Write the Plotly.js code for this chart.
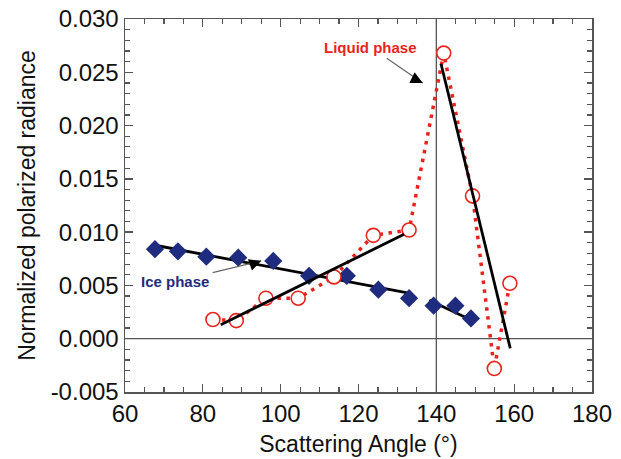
<!DOCTYPE html>
<html>
<head>
<meta charset="utf-8">
<script src="https://cdn.plot.ly/plotly-3.0.1.min.js"></script>
<style>html,body{margin:0;padding:0;background:#fff;}#chart{width:621px;height:459px;}</style>
</head>
<body>
<div id="chart"></div>
<script>
// Ice phase (blue diamonds)
const iceX = [67.7, 73.6, 80.9, 89.1, 98.1, 107.3, 117.0, 125.1, 133.0, 139.3, 144.9, 148.9];
const iceY = [0.0084, 0.0082, 0.0077, 0.0076, 0.0073, 0.0059, 0.0059, 0.0046, 0.0038, 0.0031, 0.0031, 0.0019];
// Liquid phase (red open circles, dotted)
const liqX = [82.6, 88.6, 96.2, 104.5, 113.7, 123.8, 133.0, 141.9, 149.3, 154.9, 158.9];
const liqY = [0.0018, 0.0017, 0.0038, 0.0038, 0.0058, 0.0097, 0.0102, 0.0268, 0.0134, -0.0028, 0.0052];
// Fitted lines (start/end)
const iceFit1X = [68.7, 132.6];
const iceFit1Y = [0.0087, 0.0043];
const iceFit2X = [138.2, 149.2];
const iceFit2Y = [0.0036, 0.0017];
const liqFit1X = [84.6, 131.7];
const liqFit1Y = [0.0013, 0.0098];
const liqFit2X = [141.2, 159.0];
const liqFit2Y = [0.0258, -0.0009];
const xTicks = [60, 80, 100, 120, 140, 160, 180];
const yTicks = [-0.005, 0.000, 0.005, 0.010, 0.015, 0.020, 0.025, 0.030];

const FONT = 'Arial, "Liberation Sans", sans-serif';
const RED = '#e8231c';
const NAVY = '#1f2b7e';

const fit = (x, y) => ({x: x, y: y, mode: 'lines', type: 'scatter', line: {color: '#000', width: 2.8}, hoverinfo: 'skip', showlegend: false});

const data = [
  {x: liqX, y: liqY, mode: 'lines', type: 'scatter', line: {color: RED, width: 3.5, dash: '3.5px,5.5px'}, showlegend: false},
  fit(iceFit1X, iceFit1Y), fit(iceFit2X, iceFit2Y),
  {x: iceX, y: iceY, mode: 'markers', type: 'scatter', marker: {symbol: 'diamond', size: 14, color: NAVY}, showlegend: false},
  {x: liqX, y: liqY, mode: 'markers', type: 'scatter', marker: {symbol: 'circle', size: 14, color: '#fff', line: {width: 1.6, color: RED}}, showlegend: false},
  fit(liqFit1X, liqFit1Y), fit(liqFit2X, liqFit2Y)
];

const axisCommon = {
  showgrid: false, zeroline: false, showline: true, linecolor: '#555', linewidth: 1.5,
  mirror: 'ticks', ticks: 'inside', ticklen: 8, tickwidth: 1.3, tickcolor: '#555',
  tickfont: {family: FONT, size: 24, color: '#111'}
};

const layout = {
  width: 621, height: 459,
  margin: {l: 125, r: 29, t: 19, b: 67},
  paper_bgcolor: '#fff', plot_bgcolor: '#fff',
  font: {family: FONT, color: '#111'},
  xaxis: Object.assign({}, axisCommon, {
    range: [60, 180], tickmode: 'array', tickvals: xTicks, ticktext: xTicks.map(String),
    minor: {dtick: 5, tick0: 60, ticks: 'inside', ticklen: 5, tickwidth: 1.2, tickcolor: '#555'},
    title: {text: 'Scattering Angle (°)', font: {family: FONT, size: 23, color: '#111'}, standoff: 9}
  }),
  yaxis: Object.assign({}, axisCommon, {
    range: [-0.005, 0.030], tickmode: 'array', tickvals: yTicks, ticktext: yTicks.map(v => v.toFixed(3)),
    minor: {dtick: 0.001, tick0: 0, ticks: 'inside', ticklen: 5, tickwidth: 1.2, tickcolor: '#555'},
    title: {text: 'Normalized polarized radiance', font: {family: FONT, size: 23, color: '#111'}, standoff: 8}
  }),
  shapes: [
    {type: 'line', xref: 'x', yref: 'paper', x0: 140, x1: 140, y0: 0, y1: 1, line: {color: '#555', width: 1.3}, layer: 'below'},
    {type: 'line', xref: 'paper', yref: 'y', x0: 0, x1: 1, y0: 0, y1: 0, line: {color: '#555', width: 1.3}, layer: 'below'}
  ],
  annotations: [
    {x: 136.5, y: 0.0240, ax: 123.1, ay: 0.02737, axref: 'x', ayref: 'y', xref: 'x', yref: 'y',
     text: '<b>Liquid phase</b>', font: {family: FONT, size: 15, color: RED},
     showarrow: true, arrowhead: 0, arrowwidth: 1.2, arrowcolor: '#666', standoff: 0, startstandoff: 2},
    {x: 136.5, y: 0.0240, ax: -9, ay: -4.5, xref: 'x', yref: 'y', text: '',
     showarrow: true, arrowhead: 2, arrowsize: 1.2, arrowwidth: 2, arrowcolor: '#000', standoff: 0},
    {x: 95.0, y: 0.00731, ax: 72.9, ay: 0.00534, axref: 'x', ayref: 'y', xref: 'x', yref: 'y',
     text: '<b>Ice phase</b>', font: {family: FONT, size: 15, color: NAVY},
     showarrow: true, arrowhead: 0, arrowwidth: 1.2, arrowcolor: '#666', standoff: 0, startstandoff: 2},
    {x: 95.0, y: 0.00731, ax: -9.4, ay: 3.4, xref: 'x', yref: 'y', text: '',
     showarrow: true, arrowhead: 2, arrowsize: 1.2, arrowwidth: 2, arrowcolor: '#000', standoff: 0}
  ]
};

Plotly.newPlot('chart', data, layout, {staticPlot: true, displayModeBar: false});
</script>
</body>
</html>
